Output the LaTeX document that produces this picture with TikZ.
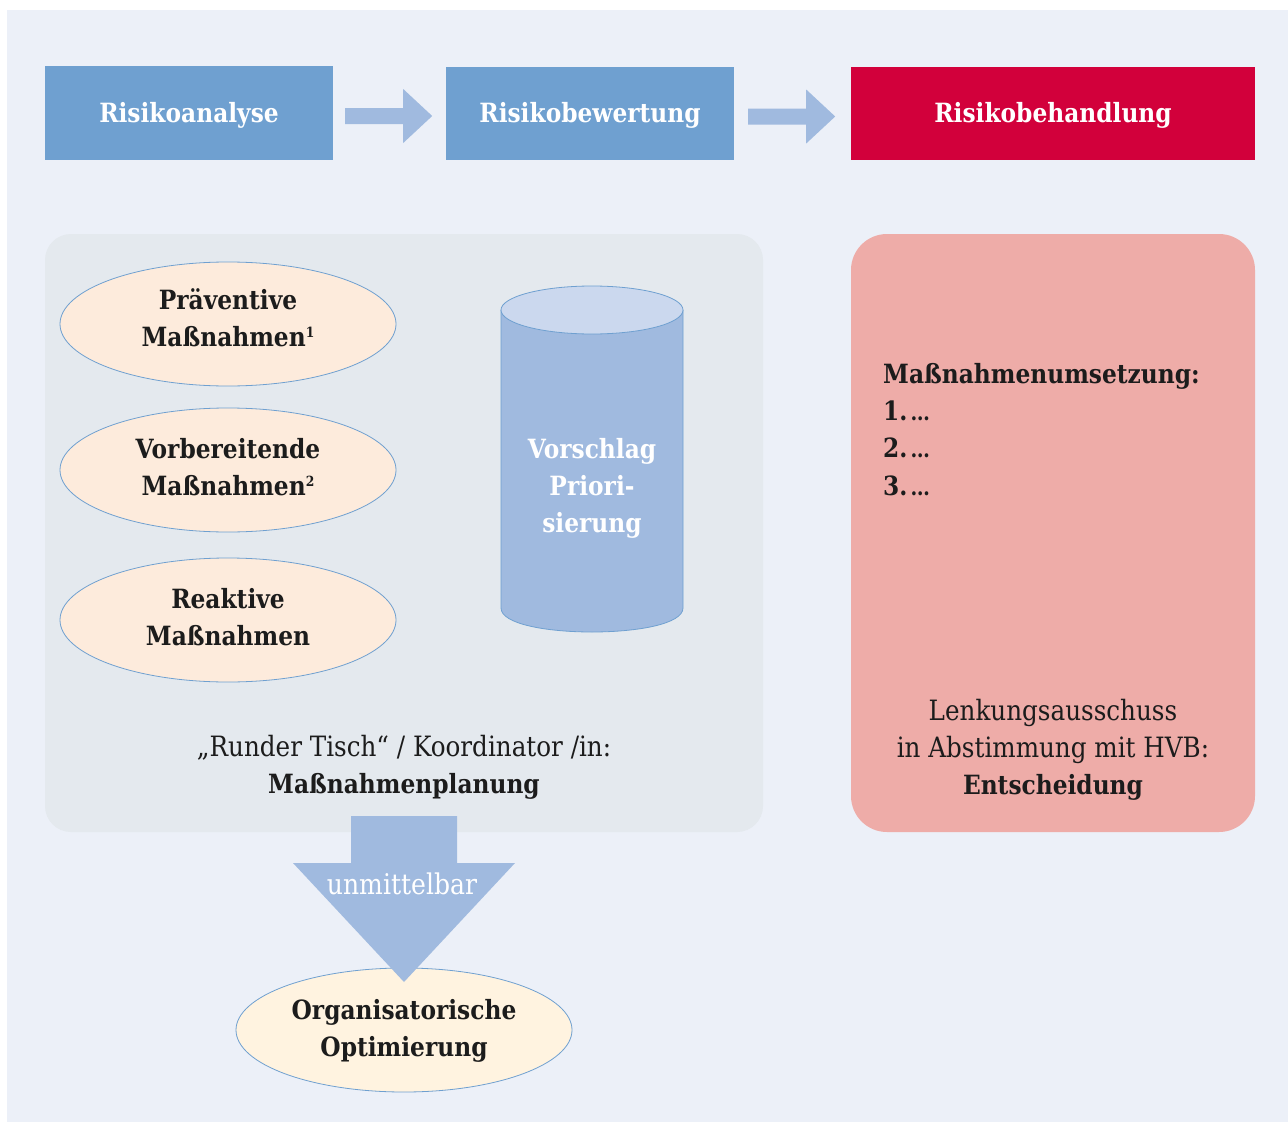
\documentclass[tikz,border=0pt]{standalone}
\usepackage{fontspec}
\setmainfont{DejaVu Serif}[FakeStretch=0.88]
\usetikzlibrary{shapes.geometric}
\definecolor{bgc}{HTML}{ECF0F8}
\definecolor{boxblue}{HTML}{6FA0D0}
\definecolor{arrowblue}{HTML}{A0BADF}
\definecolor{crimson}{HTML}{D2003B}
\definecolor{panelgrey}{HTML}{E4E9EE}
\definecolor{peach}{HTML}{FDEBDC}
\definecolor{cream}{HTML}{FFF3E0}
\definecolor{pinkpanel}{HTML}{EEACA8}
\definecolor{cyltop}{HTML}{CBD8EE}
\definecolor{txt}{HTML}{1C1C1C}
\newcommand{\regfont}{\fontsize{28}{37}\selectfont}
\newcommand{\bfont}{\fontsize{26.5}{37}\selectfont\bfseries}
\newcommand{\supnum}[1]{\smash{\raisebox{9pt}{\fontsize{14}{14}\selectfont #1}}}
\newcommand{\dotsfill}{\kern3pt{\fontsize{22}{22}\selectfont …}}
\tikzset{
  topbox/.style={minimum height=93pt, inner sep=0pt, text=white, font=\bfont},
  ell/.style={ellipse, draw=boxblue, line width=0.8pt, fill=peach, minimum width=336pt, minimum height=124pt, inner sep=0pt},
  elltext/.style={align=center, text=txt, font=\bfont, inner sep=0pt},
  flowarrow/.style={fill=arrowblue},
  plain/.style={text=txt, font=\regfont, inner sep=0pt},
}
\begin{document}
\begin{tikzpicture}[x=1pt,y=-1pt]
\useasboundingbox (0,0) rectangle (1288,1124);
\fill[white] (0,0) rectangle (1288,1124);
\fill[bgc] (7,10) rectangle (1288,1122);
% top boxes
\node[topbox, fill=boxblue, minimum width=288pt] (ana) at (189,113) {};
\node[topbox, fill=boxblue, minimum width=288pt] (bew) at (590,113.5) {};
\node[topbox, fill=crimson, minimum width=404pt] (beh) at (1053,113.5) {};
\node[topbox, minimum height=0pt] at ([yshift=-2pt]ana.center) {Risikoanalyse};
\node[topbox, minimum height=0pt] at ([yshift=-2pt]bew.center) {Risikobewertung};
\node[topbox, minimum height=0pt] at ([yshift=-2pt]beh.center) {Risikobehandlung};
% block arrows
\begin{scope}[shift={(ana.east)}]
\fill[flowarrow] (12,-5) -- (70,-5) -- (70,-24) -- (99,3) -- (70,30) -- (70,11) -- (12,11) -- cycle;
\end{scope}
\begin{scope}[shift={(bew.east)}]
\fill[flowarrow] (14,-5) -- (72,-5) -- (72,-24) -- (101,3) -- (72,30) -- (72,11) -- (14,11) -- cycle;
\end{scope}
% panels
\node[fill=panelgrey, rounded corners=26pt, minimum width=718pt, minimum height=598pt, inner sep=0pt] (lp) at (404,533) {};
\node[fill=pinkpanel, rounded corners=36pt, minimum width=404pt, minimum height=598pt, inner sep=0pt] (rp) at (1053,533) {};
% ellipses
\node[ell] (prae) at (228,324) {};
\node[ell] (vorb) at (228,470) {};
\node[ell] (reak) at (228,620) {};
\node[elltext] at ([yshift=6pt]prae.center) {Präventive\\Maßnahmen\supnum{1}};
\node[elltext] at ([yshift=2.5pt]vorb.center) {Vorbereitende\\Maßnahmen\supnum{2}};
\node[elltext] at ([yshift=3pt]reak.center) {Reaktive\\Maßnahmen};
% cylinder
\fill[arrowblue] (501,310) -- (501,608) .. controls (501,640) and (683,640) .. (683,608) -- (683,310) -- cycle;
\draw[boxblue, line width=0.8pt] (501,310) -- (501,608) .. controls (501,640) and (683,640) .. (683,608) -- (683,310);
\draw[boxblue, line width=0.8pt, fill=cyltop] (592,310) ellipse [x radius=91, y radius=24];
\node[align=center, text=white, font=\bfont, inner sep=0pt] (cyl) at (592,488.5) {Vorschlag\\Priori-\\sierung};
% left panel text
\node[plain, align=center] (rt) at (404,767) {„Runder Tisch“ / Koordinator /in:\\{\bfont Maßnahmenplanung}};
% right panel text
\node[text=txt, font=\bfont, inner sep=0pt, anchor=base west] (mu) at (883,383) {Maßnahmenumsetzung:};
\node[text=txt, font=\bfont, inner sep=0pt, anchor=base west] (m1) at (883,420) {1.\dotsfill};
\node[text=txt, font=\bfont, inner sep=0pt, anchor=base west] (m2) at (883,457) {2.\dotsfill};
\node[text=txt, font=\bfont, inner sep=0pt, anchor=base west] (m3) at (883,495) {3.\dotsfill};
\node[plain, align=center] (la) at (1053,750) {Lenkungsausschuss\\in Abstimmung mit HVB:\\{\bfont Entscheidung}};
% bottom ellipse
\node[ell, fill=cream] (opt) at (404,1030) {};
\node[elltext] at ([yshift=-1pt]opt.center) {Organisatorische\\Optimierung};
% down arrow
\fill[flowarrow] (351,816) -- (457,816) -- (457,863) -- (515,863) -- (404,982) -- (293,863) -- (351,863) -- cycle;
\node[text=white, font=\fontsize{28.5}{37}\selectfont, inner sep=0pt] (um) at (402,884) {unmittelbar};
\end{tikzpicture}
\end{document}
